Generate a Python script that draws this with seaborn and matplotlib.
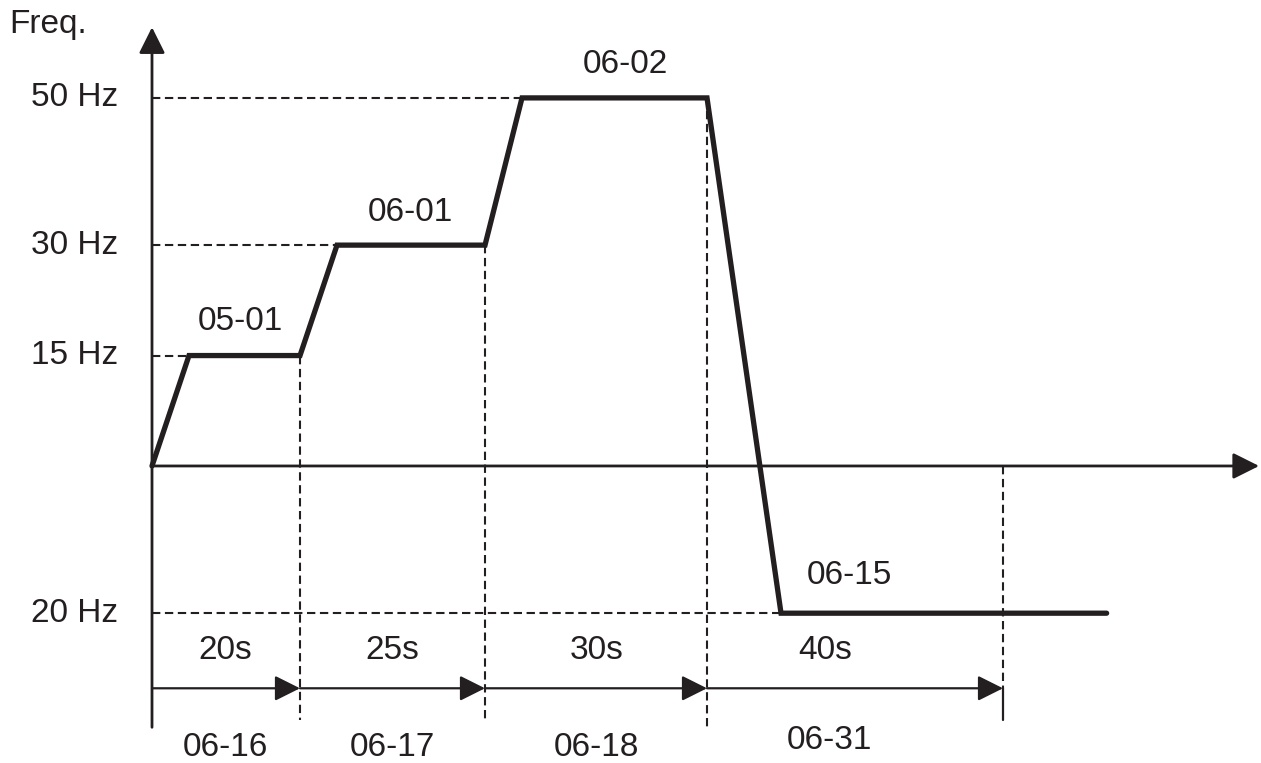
import numpy as np
import pandas as pd
import seaborn as sns
import matplotlib.pyplot as plt

# Frequenzprofil (Zeit in s, Frequenz in Hz; negativ = Rückwärtslauf)
time_pts = [0, 5, 20, 25, 45, 50, 75, 85, 129]
freq_pts = [0, 15, 15, 30, 30, 50, 50, -20, -20]

freq_levels = [50, 30, 15, -20]
freq_labels = ['50 Hz', '30 Hz', '15 Hz', '20 Hz']

step_secs = [20, 25, 30, 40]
step_names = ['20s', '25s', '30s', '40s']
step_params = ['06-16', '06-17', '06-18', '06-31']
speed_params = ['05-01', '06-01', '06-02', '06-15']

sns.set_style('white')
plt.rcParams['font.family'] = ['Liberation Sans', 'DejaVu Sans']
ink = '#231f20'
fs = 24

fig = plt.figure(figsize=(12.61, 7.63), dpi=100)
ax = fig.add_axes([0, 0, 1, 1])
ax.set_xlim(-20.54, 149.86)
ax.set_ylim(-40.35, 63.3)
ax.axis('off')

df = pd.DataFrame({'t': time_pts, 'f': freq_pts})
sns.lineplot(data=df, x='t', y='f', ax=ax, color=ink, lw=3.8, sort=False,
             solid_joinstyle='miter', solid_capstyle='round', zorder=5)

# Achsen mit Pfeilen
head = '-|>,head_length=0.5,head_width=0.25'
arr = dict(arrowstyle=head, color=ink, lw=2.0, mutation_scale=32, shrinkA=0, shrinkB=0)
ax.annotate('', xy=(0, 59.6), xytext=(0, -35.5), arrowprops=arr)
ax.annotate('', xy=(149.6, 0), xytext=(0, 0), arrowprops=arr)

dash = dict(color=ink, lw=1.5, ls=(0, (4, 2.2)))

# horizontale Hilfslinien
t_arr = np.array(time_pts)
f_arr = np.array(freq_pts)
for lvl, lab in zip(freq_levels, freq_labels):
    ts = t_arr[f_arr == lvl]
    end = ts.max() if lvl > 0 else ts.min()
    ax.plot([0, end], [lvl, lvl], **dash)
    ax.text(-4.6, lvl, lab, ha='right', va='center', fontsize=fs, color=ink)

# vertikale Hilfslinien und Zeitpfeile
bounds = np.cumsum([0] + step_secs)
arrow_y = -30.2
for b in bounds[1:]:
    top = max(np.interp(b, time_pts, freq_pts), 0)
    if b == bounds[-1]:
        ax.plot([b, b], [top, arrow_y], **dash)
        ax.plot([b, b], [arrow_y, -34.5], color=ink, lw=1.6)
    else:
        ax.plot([b, b], [top, -34.5 if b != bounds[3] else -35.5], **dash)

arr2 = dict(arrowstyle=head, color=ink, lw=1.6, mutation_scale=31, shrinkA=0, shrinkB=0)
for a, b in zip(bounds[:-1], bounds[1:]):
    ax.annotate('', xy=(b, arrow_y), xytext=(a, arrow_y), arrowprops=arr2)

# Beschriftungen
name_x = [9.9, 32.5, 60.1, 91.0]
for x, n, p in zip(name_x, step_names, step_params):
    ax.text(x, -25.0, n, ha='center', va='center', fontsize=fs, color=ink)
    ax.text(x if p != '06-31' else 91.6, -38.3 if p != '06-31' else -37.3, p,
            ha='center', va='center', fontsize=fs, color=ink)

speed_pos = [(11.9, 19.6), (34.9, 34.5), (63.9, 54.6), (94.3, -14.9)]
for (x, y), s in zip(speed_pos, speed_params):
    ax.text(x, y, s, ha='center', va='center', fontsize=fs, color=ink)

ax.text(-19.3, 58.8, 'Freq.', ha='left', va='baseline', fontsize=fs, color=ink)

fig.savefig('out.png', dpi=100, facecolor='white')
